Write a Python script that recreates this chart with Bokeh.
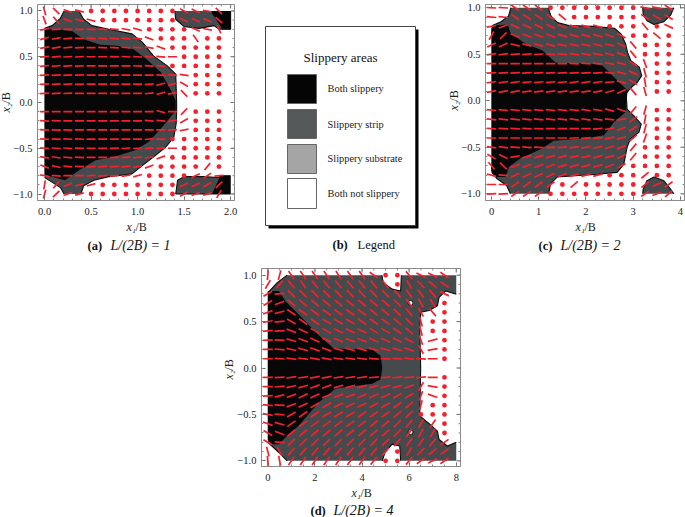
from bokeh.plotting import figure
from bokeh.models import FixedTicker, Range1d
from bokeh.core.properties import value
from bokeh.embed import file_html
from bokeh.resources import INLINE

D = None
ROWS = [1.0, 0.9, 0.8, 0.7, 0.6, 0.5, 0.4, 0.3, 0.2, 0.1, -0.1, -0.2, -0.3, -0.4, -0.5, -0.6, -0.7, -0.8, -0.9, -1.0]

# Director angle (degrees) per grid point; D marks a point shown as a dot
angles_a = [
 [-75,-45,-20,-15,D,D,D,D,D,D,D,D,-30,-25,-10,-45],
 [-70,-50,-20,-15,-15,D,D,D,D,D,D,D,-25,-25,-20,-40],
 [10,3,0,0,-3,-5,-5,-10,-15,D,D,D,D,-25,-10,-65],
 [15,10,5,0,-3,-5,-5,-5,-8,-20,D,D,D,-55,D,D],
 [10,10,5,3,0,-3,-3,-5,-5,-10,-20,D,D,D,D,D],
 [5,5,3,3,0,0,-2,-3,-3,-5,-5,0,D,D,D,D],
 [5,5,3,2,0,0,0,0,-2,-3,-5,D,D,D,D,D],
 [3,3,3,2,0,0,0,0,0,0,-3,-5,-8,D,D,D],
 [3,3,3,2,0,0,0,0,0,5,15,15,-30,D,D,D],
 [3,3,2,0,0,0,0,0,0,5,15,10,-45,D,D,D],
 [0,0,0,0,0,0,0,0,0,0,-15,0,45,D,D,D],
 [-3,-2,0,0,0,0,0,0,0,-5,-5,10,30,D,D,D],
 [-3,-2,-2,0,0,0,0,0,0,0,0,3,10,D,D,D],
 [-3,-3,-2,-2,0,0,0,0,0,5,0,D,D,D,D,D],
 [-5,-3,-3,-2,0,0,2,3,3,5,5,0,D,D,D,D],
 [-10,-8,-5,-3,0,0,3,3,5,8,20,D,D,D,D,D],
 [-20,-12,-5,-2,3,5,5,5,10,20,D,D,D,D,50,D],
 [-10,-5,0,0,3,5,5,10,15,D,D,D,D,25,35,5],
 [80,50,20,15,15,D,D,D,D,D,D,D,25,25,30,45],
 [75,45,20,15,D,D,D,D,D,D,D,D,30,20,15,60],
]
angles_c = [
 [-3,-3,-35,-35,-35,D,D,D,D,D,D,D,D,-10,-10,-35],
 [-5,-5,-35,-35,-35,-35,-40,D,D,D,D,D,D,-35,-30,-30],
 [10,20,-25,-25,-25,-25,-20,-15,-15,-15,D,D,D,-50,D,-25],
 [60,45,-20,-20,-20,-20,-15,-15,-15,-15,-20,-30,D,D,-40,D],
 [25,25,-15,-15,-15,-15,-10,-10,-10,-15,-15,-25,-50,D,D,D],
 [8,8,5,5,3,-3,-5,-8,-10,-10,-15,-20,-50,D,D,D],
 [0,0,0,0,0,0,0,-3,-5,-5,-10,-15,-30,-70,D,D],
 [3,3,3,3,2,2,3,3,3,2,-5,-15,-25,-75,D,D],
 [8,8,8,5,5,5,5,8,8,8,5,-15,-30,-80,D,D],
 [10,10,10,8,8,8,8,8,8,10,15,25,-50,-75,D,D],
 [-5,-5,-5,-5,-5,-5,-5,-5,-8,-8,-15,-20,50,75,D,D],
 [-5,-5,-5,-5,-5,-5,-5,-8,-8,-8,-5,10,35,80,D,D],
 [-3,-3,-3,-3,-2,0,0,0,0,5,10,20,30,75,D,D],
 [0,0,0,0,0,0,0,3,5,5,10,15,40,70,D,D],
 [-8,-8,-5,-5,-3,0,5,8,10,12,15,20,50,D,D,D],
 [-30,-25,10,15,15,15,15,12,12,15,15,25,50,D,D,D],
 [-50,-45,20,20,20,20,15,15,15,15,20,30,D,D,D,D],
 [-15,-5,25,25,25,25,20,15,15,15,D,D,D,40,D,D],
 [0,0,35,35,35,35,D,40,D,D,D,D,D,40,25,35],
 [3,3,35,35,35,D,D,D,D,D,D,D,D,35,20,40],
]
angles_d = [
 [85,75,-55,-55,-55,-55,-60,-55,-55,-35,D,D,-50,-25,-25,-35],
 [60,50,-50,-55,-50,-50,-50,-50,-50,-50,-50,D,-60,-45,-40,-35],
 [30,5,-45,-45,-45,-45,-45,-45,-45,-45,-45,-50,-55,-55,-50,-25],
 [30,20,-40,-40,-40,-40,-40,-40,-40,-40,-40,-45,-55,-60,-60,D],
 [20,15,-35,-35,-35,-35,-35,-35,-35,-40,-40,-45,-50,-60,-50,D],
 [10,5,-30,-35,-35,-30,-30,-30,-35,-35,-35,-40,-45,-75,D,D],
 [5,3,-20,-25,-30,-30,-25,-25,-25,-30,-30,-35,-40,-75,D,D],
 [3,-3,-15,-20,-25,-25,-22,-20,-20,-25,-25,-25,-30,-70,15,D],
 [0,-5,-12,-15,-20,-20,-15,-15,-15,-15,-15,-15,-20,-60,10,D],
 [0,-3,-8,-8,-10,-10,-8,-8,-8,-5,-5,-5,-8,-5,0,D],
 [0,3,8,8,10,10,8,8,8,5,5,5,5,5,0,D],
 [0,5,12,15,20,20,15,15,15,15,15,15,20,60,-10,D],
 [3,15,20,25,25,22,20,20,25,25,25,30,30,70,-20,D],
 [-5,-3,20,25,30,30,25,25,25,30,30,35,40,75,D,D],
 [-10,-5,30,35,35,30,30,30,35,35,35,40,45,D,D,D],
 [-20,-15,35,35,35,35,35,35,35,40,40,45,50,60,55,D],
 [-30,-20,40,40,40,40,40,40,40,40,40,45,55,60,60,D],
 [-30,-5,45,45,45,45,45,45,45,45,45,50,55,55,50,35],
 [-75,-60,50,50,50,50,50,50,50,50,50,D,60,45,40,35],
 [-85,-80,55,55,55,55,55,55,55,50,D,D,50,35,25,35],
]

# Region outlines; a None breaks the drawn edge (straight frame-side stretches)
strip_a = [
 [(0,.82),None,(0,.81),(.08,.84),(.17,.92),(.21,1),None,(.37,1),(.42,.91),(.51,.84),(.69,.80),(.94,.75),(1.05,.66),(1.17,.51),(1.32,.40),(1.41,.31),(1.42,0),(1.42,-.09),(1.415,-.23),(1.39,-.38),(1.3,-.49),(1.19,-.58),(1.05,-.69),(.94,-.78),(.69,-.81),(.53,-.85),(.42,-.91),(.39,-1),None,(.21,-1),(.17,-.93),(.08,-.87),(0,-.82)],
 [(1.4,1),None,(2,1),(2,.8),(1.88,.8),(1.82,.84),(1.66,.81),(1.5,.83),(1.41,.91),(1.4,1)],
 [(1.41,-1),(1.43,-.85),(1.5,-.81),(1.7,-.81),(1.87,-.82),(1.89,-.8),(2,-.8),None,(2,-1),(1.41,-1)],
]
both_a = [
 [(0,.8),(.15,.8),(.3,.78),(.42,.69),(.6,.63),(.78,.62),(.96,.58),(1.1,.47),(1.25,.33),(1.36,.13),(1.41,.02),(1.41,-.09),(1.32,-.2),(1.23,-.31),(1.12,-.43),(.98,-.52),(.76,-.59),(.55,-.63),(.37,-.74),(.22,-.85),(.15,-.83),(0,-.79)],
 [(1.78,1),(2,1),(2,.8),(1.91,.8),(1.89,.84),(1.85,.9)],
 [(1.8,-1),(2,-1),(2,-.8),(1.89,-.8),(1.85,-.89)],
]
strip_c = [
 [(0,.7),(.02,.81),(.2,.85),(.36,.91),(.41,1),None,(1.2,1),(1.26,.91),(1.4,.84),(1.64,.81),(2.14,.80),(2.6,.78),(2.74,.72),(2.84,.61),(2.88,.52),(2.95,.43),(3.13,.36),(3.18,.27),(3.09,.2),(2.95,.14),(2.84,.07),(2.86,0),(2.87,-.09),(3.01,-.16),(3.17,-.25),(3.12,-.34),(2.94,-.41),(2.87,-.5),(2.8,-.68),(2.66,-.77),(2.24,-.79),(1.39,-.82),(1.25,-.89),(1.21,-1),None,(.4,-1),(.32,-.91),(.12,-.84),(.01,-.77),(0,-.7)],
 [(3.2,1),None,(3.86,1),(3.79,.92),(3.65,.85),(3.44,.82),(3.29,.86),(3.21,.93),(3.2,1)],
 [(3.2,-1),(3.21,-.95),(3.29,-.86),(3.44,-.82),(3.65,-.86),(3.79,-.95),(3.86,-1)],
]
both_c = [
 [(0,.78),(.02,.81),(.34,.82),(.41,.72),(.73,.61),(1.08,.54),(1.36,.41),(2.07,.40),(2.35,.38),(2.6,.25),(2.88,.11),(2.86,0),(2.84,-.12),(2.59,-.23),(2.38,-.37),(2.02,-.40),(1.32,-.43),(1.04,-.52),(.61,-.62),(.37,-.71),(.3,-.82),(.08,-.82),(0,-.75)],
]
strip_d = [
 [(0,.81),(.4,.92),(.82,1),None,(4.84,1),(4.9,.92),(5.28,.85),(5.64,.83),(5.67,1),None,(8,1),None,(8,.795),(7.55,.83),(7.27,.76),(7.2,.67),(6.85,.62),(6.49,.6),(6.45,.42),(6.49,0),(6.45,-.515),(6.85,-.6),(7.2,-.68),(7.27,-.77),(7.62,-.84),(8,-.8),None,(8,-1),None,(5.64,-1),(5.6,-.84),(5.28,-.82),(4.97,-.91),(4.86,-1),None,(.82,-1),(.47,-.91),(0,-.8)],
]
both_d = [
 [(0,.83),(.47,.83),(.75,.72),(1.46,.54),(2.17,.35),(2.8,.21),(4.43,.2),(4.79,.13),(4.86,0),(4.79,-.12),(4.43,-.17),(2.88,-.22),(2.17,-.37),(1.32,-.62),(.82,-.73),(.47,-.82),(.18,-.82),(0,-.77)],
]
holes_d_x = [6.06, 6.06]
holes_d_y = [.7, -.69]

legend_labels = ["Both slippery", "Slippery strip", "Slippery substrate", "Both not slippery"]
legend_colors = ["#050505", "#555859", "#a5a5a5", "#ffffff"]
captions = [("(a)", "L/(2B) = 1", 87, 110, 245), ("(c)", "L/(2B) = 2", 538, 560, 245), ("(d)", "L/(2B) = 4", 310, 333, 510)]
x_titles = [(126, 226), (575, 226), (351, 492)]
y_titles = [(5, 112), (453, 110), (228, 379)]

RED = "#f5202e"
GRAY = "#454a4c"
BLACK = "#070707"
FRAME = "#8c8c8c"
TICK = "#666666"
SERIF = "Liberation Serif"
Y_TICKS = [-1.0, -0.5, 0.0, 0.5, 1.0]
Y_MINOR = [i / 10 for i in range(-10, 11)]
Y_LABELS = {-1.0: "\u22121.0", -0.5: "\u22120.5", 0.0: "0.0", 0.5: "0.5", 1.0: "1.0"}


def place(left, top, z=1):
    return {"position": "absolute", "left": f"{left}px", "top": f"{top}px", "z-index": str(z)}


def panel(pos, w, h, box, xr, yr, step, xticks, xminor, xlabels, strip, both, angles, rod_len, hole=None):
    left, right, top, bottom = box
    p = figure(width=w, height=h, output_backend="svg", toolbar_location=None,
               x_range=Range1d(*xr), y_range=Range1d(*yr),
               min_border_left=left, min_border_right=right, min_border_top=top, min_border_bottom=bottom,
               background_fill_color="white", border_fill_color="white",
               outline_line_color=FRAME, outline_line_width=1, styles=place(*pos))
    p.grid.visible = False
    ax = p.xaxis[0]
    ay = p.yaxis[0]
    for a in (ax, ay):
        a.major_label_text_font = SERIF
        a.major_label_text_font_size = "10.5px"
        a.major_label_text_color = "#222222"
        a.axis_line_color = FRAME
        a.major_tick_line_color = TICK
        a.minor_tick_line_color = "#888888"
        a.major_tick_in = 4
        a.major_tick_out = 0
        a.minor_tick_in = 2
        a.minor_tick_out = 0
    ax.major_label_standoff = 7
    ay.major_label_standoff = 5
    ax.ticker = FixedTicker(ticks=xticks, minor_ticks=xminor)
    ax.major_label_overrides = xlabels
    ay.ticker = FixedTicker(ticks=Y_TICKS, minor_ticks=Y_MINOR)
    ay.major_label_overrides = Y_LABELS

    for poly in strip:
        pts = [q for q in poly if q is not None]
        p.patch([q[0] for q in pts], [q[1] for q in pts], fill_color=GRAY, line_color=None)
    for poly in both:
        p.patch([q[0] for q in poly], [q[1] for q in poly], fill_color=BLACK, line_color=None)
    for poly in strip:
        lx = [float("nan") if q is None else q[0] for q in poly]
        ly = [float("nan") if q is None else q[1] for q in poly]
        p.line(lx, ly, line_color="#0c0c0c", line_width=1.1)
    if hole:
        p.scatter(hole[0], hole[1], size=5, marker="circle", fill_color="white", line_color="#111111", line_width=1)

    rx, ry, ra, dx, dy = [], [], [], [], []
    for yv, vals in zip(ROWS, angles):
        for k, ang in enumerate(vals):
            if ang is None:
                dx.append(k * step)
                dy.append(yv)
            else:
                rx.append(k * step)
                ry.append(yv)
                ra.append(ang)
    p.scatter(rx, ry, marker="dash", size=rod_len, angle=ra, angle_units="deg", line_color=RED, line_width=1.7)
    p.scatter(dx, dy, marker="circle", size=4.8, fill_color=RED, line_color=None)

    # Inward ticks on the top and right frame sides (half of each mark is clipped by the frame)
    p.scatter(xticks, [yr[1]] * len(xticks), marker="dash", size=8, angle=90, angle_units="deg", line_color=TICK)
    p.scatter(xminor, [yr[1]] * len(xminor), marker="dash", size=4, angle=90, angle_units="deg", line_color="#888888")
    p.scatter([xr[1]] * len(Y_TICKS), Y_TICKS, marker="dash", size=8, line_color=TICK)
    p.scatter([xr[1]] * len(Y_MINOR), Y_MINOR, marker="dash", size=4, line_color="#888888")
    return p


pa = panel((0, 0), 240, 258, (37, 6, 4, 58), (-.076, 2.042), (-1.071, 1.071), .125,
           [0, .5, 1, 1.5, 2], [i / 10 for i in range(0, 21)],
           {0: "0.0", .5: "0.5", 1: "1.0", 1.5: "1.5", 2: "2.0"},
           strip_a, both_a, angles_a, 9)
pc = panel((440, 0), 245, 258, (45, 1, 4, 58), (-.127, 4.085), (-1.072, 1.035), .25,
           [0, 1, 2, 3, 4], [i / 5 for i in range(0, 21)],
           {0: "0", 1: "1", 2: "2", 3: "3", 4: "4"},
           strip_c, both_c, angles_c, 9.5)
pd_ = panel((225, 258), 245, 259, (36, 10, 10, 51), (-.268, 8.18), (-1.061, 1.072), .5,
            [0, 2, 4, 6, 8], [i * .5 for i in range(0, 17)],
            {0: "0", 2: "2", 4: "4", 6: "6", 8: "8"},
            strip_d, both_d, angles_d, 10, hole=(holes_d_x, holes_d_y))

# Page-wide transparent layer in pixel units: legend panel, axis titles and captions
lg = figure(width=685, height=517, output_backend="svg", toolbar_location=None,
            x_range=Range1d(0, 685), y_range=Range1d(517, 0), min_border=0,
            outline_line_color=None, background_fill_color=None, border_fill_color=None,
            styles=place(0, 0, 5))
lg.axis.visible = False
lg.grid.visible = False
lg.quad(left=[268], right=[418], top=[29], bottom=[228], fill_color="#000000", line_color=None)
lg.quad(left=[265], right=[415], top=[26], bottom=[225], fill_color="white", line_color="#444444", line_width=1)
sw_top = [74, 109, 144, 178]
sw_bot = [103, 138, 173, 208]
txt_y = [88, 124, 158, 193]
lg.quad(left=[287] * 4, right=[316] * 4, top=sw_top, bottom=sw_bot, fill_color=legend_colors, line_color="#666666", line_width=1)
lg.text(x=[327] * 4, y=txt_y, text=legend_labels, text_font=value(SERIF), text_font_size="10.4px",
        text_baseline="middle", text_color="#222222")
lg.text(x=[340], y=[57], text=["Slippery areas"], text_font=value(SERIF), text_font_size="13px",
        text_align="center", text_baseline="middle", text_color="#111111")
lg.text(x=[332], y=[244], text=["(b)"], text_font=value(SERIF), text_font_size="12.5px", text_font_style="bold",
        text_baseline="middle", text_color="#111111")
lg.text(x=[357], y=[244], text=["Legend"], text_font=value(SERIF), text_font_size="12.5px",
        text_baseline="middle", text_color="#111111")
for tag, cap, tx, cx, cy in captions:
    lg.text(x=[tx], y=[cy], text=[tag], text_font=value(SERIF), text_font_size="12.5px", text_font_style="bold",
            text_baseline="middle", text_color="#111111")
    lg.text(x=[cx], y=[cy], text=[cap], text_font=value(SERIF), text_font_size="14px", text_font_style="italic",
            text_baseline="middle", text_color="#111111")
for tx, ty in x_titles:
    lg.text(x=[tx], y=[ty], text=["x\u2081"], text_font=value(SERIF), text_font_size="12px", text_font_style="italic",
            text_baseline="middle", text_color="#222222")
    lg.text(x=[tx + 9], y=[ty], text=["/B"], text_font=value(SERIF), text_font_size="12px",
            text_baseline="middle", text_color="#222222")
for tx, ty in y_titles:
    lg.text(x=[tx], y=[ty], text=["x\u2082"], text_font=value(SERIF), text_font_size="12px", text_font_style="italic",
            text_baseline="middle", angle=90, angle_units="deg", text_color="#222222")
    lg.text(x=[tx], y=[ty - 9], text=["/B"], text_font=value(SERIF), text_font_size="12px",
            text_baseline="middle", angle=90, angle_units="deg", text_color="#222222")

open("out.html", "w").write(file_html([pa, pc, pd_, lg], INLINE))
